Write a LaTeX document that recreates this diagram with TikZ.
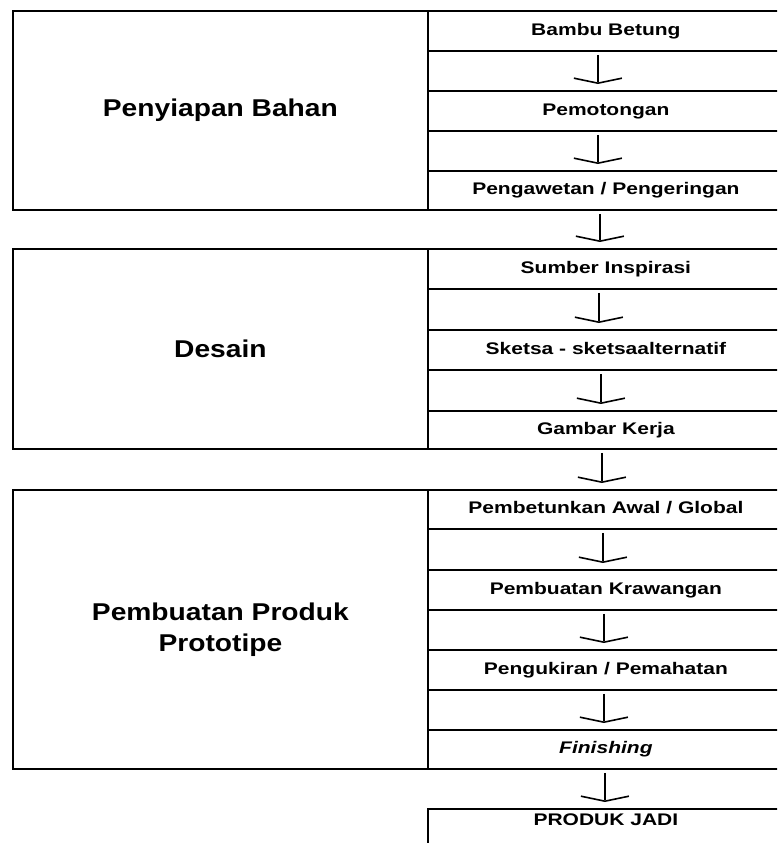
\documentclass[tikz,border=0pt]{standalone}
\usepackage{fontspec}
\setmainfont{Liberation Sans}
\newfontfamily\cellfont[FakeStretch=1.25]{Liberation Sans}
\newfontfamily\groupfont[FakeStretch=1.16]{Liberation Sans}
\usetikzlibrary{arrows.meta}
\begin{document}
\begin{tikzpicture}[x=1pt,y=-1pt,
  group/.style={draw, line width=1.8pt, anchor=north west, inner sep=0pt,
    minimum width=415pt, align=center,
    font=\groupfont\bfseries\fontsize{24.3}{31}\selectfont},
  cell/.style={draw, line width=1.8pt, anchor=north west, inner sep=0pt,
    minimum width=356pt, text height=12pt, text depth=3.5pt,
    font=\cellfont\bfseries\fontsize{16.8}{20}\selectfont},
  flow/.style={line width=1.6pt, -{Straight Barb[length=5pt,width=48pt]},
    shorten <=3pt, shorten >=6pt}]
\useasboundingbox (0,0) rectangle (777,843);
\clip (0,0) rectangle (777,843);
\fill[white] (0,0) rectangle (777,843);

% group boxes
\node[group, minimum height=199pt] (g1) at (12,10) {Penyiapan Bahan};
\node[group, minimum height=200pt] (g2) at (12,248) {Desain};
\node[group, minimum height=279pt] (g3) at (12,489) {Pembuatan Produk\\Prototipe};

% step cells
\node[cell, minimum height=40pt] (c1) at (427,10) {Bambu Betung};
\node[cell, minimum height=40pt] (c2) at (427,90) {Pemotongan};
\node[cell, minimum height=39pt] (c3) at (427,170) {Pengawetan / Pengeringan};
\node[cell, minimum height=40pt] (c4) at (427,248) {Sumber Inspirasi};
\node[cell, minimum height=40pt] (c5) at (427,329) {Sketsa - sketsaalternatif};
\node[cell, minimum height=38pt] (c6) at (427,410) {Gambar Kerja};
\node[cell, minimum height=39pt] (c7) at (427,489) {Pembetunkan Awal / Global};
\node[cell, minimum height=40pt] (c8) at (427,569) {Pembuatan Krawangan};
\node[cell, minimum height=40pt] (c9) at (427,649) {Pengukiran / Pemahatan};
\node[cell, minimum height=39pt] (c10) at (427,729) {\itshape Finishing};
\node[cell, text height=17pt, text depth=30pt] (c11) at (427,808) {PRODUK JADI};

% connectors
\draw[flow] ([xshift=-8pt]c1.south) -- ([xshift=-8pt]c2.north);
\draw[flow] ([xshift=-8pt]c2.south) -- ([xshift=-8pt]c3.north);
\draw[flow] ([xshift=-6pt]c3.south) -- ([xshift=-6pt]c4.north);
\draw[flow] ([xshift=-7pt]c4.south) -- ([xshift=-7pt]c5.north);
\draw[flow] ([xshift=-5pt]c5.south) -- ([xshift=-5pt]c6.north);
\draw[flow] ([xshift=-4pt]c6.south) -- ([xshift=-4pt]c7.north);
\draw[flow] ([xshift=-3pt]c7.south) -- ([xshift=-3pt]c8.north);
\draw[flow] ([xshift=-2pt]c8.south) -- ([xshift=-2pt]c9.north);
\draw[flow] ([xshift=-2pt]c9.south) -- ([xshift=-2pt]c10.north);
\draw[flow] ([xshift=-1pt]c10.south) -- ([xshift=-1pt]c11.north);
\end{tikzpicture}
\end{document}
